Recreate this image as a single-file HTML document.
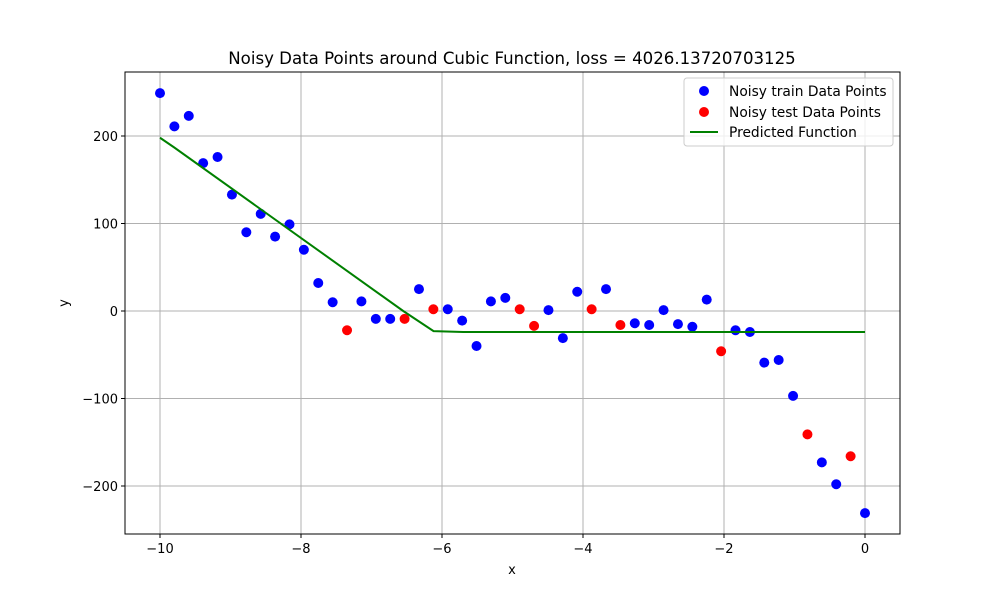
<!DOCTYPE html>
<html><head><meta charset="utf-8"><style>
body{margin:0;background:#fff;font-family:"Liberation Sans","DejaVu Sans",sans-serif}
</style></head><body>
<svg id="chart" width="1000" height="600" xmlns="http://www.w3.org/2000/svg" font-family="DejaVu Sans, Liberation Sans, sans-serif">
<rect width="1000" height="600" fill="#fff"/>
<g id="grid"></g>
<g id="marks"></g>
<rect x="125" y="72" width="775" height="462" fill="none" stroke="#000" stroke-width="1"/>
<g id="ticks"></g>
<text x="512" y="64" font-size="16.6" text-anchor="middle">Noisy Data Points around Cubic Function, loss = 4026.13720703125</text>
<text x="512" y="574" font-size="13" text-anchor="middle">x</text>
<text x="68" y="303" font-size="13" text-anchor="middle" transform="rotate(-90 68 303)">y</text>
<g>
<rect x="684" y="78" width="209" height="68" rx="3" fill="#fff" fill-opacity="0.8" stroke="#ccc"/>
<circle cx="704" cy="91" r="5" fill="#0000ff"/>
<text x="729" y="96" font-size="13.8">Noisy train Data Points</text>
<circle cx="704" cy="112" r="5" fill="#ff0000"/>
<text x="729" y="117" font-size="13.8">Noisy test Data Points</text>
<line x1="690" y1="132" x2="718" y2="132" stroke="#008000" stroke-width="2"/>
<text x="729" y="137" font-size="13.8">Predicted Function</text>
</g>
</svg>
<script>
const xTicks=[-10,-8,-6,-4,-2,0];
const yTicks=[-200,-100,0,100,200];
const yValues=[249,211,223,169,176,133,90,111,85,99,70,32,10,-22,11,-9,-9,-9,25,2,2,-11,-40,11,15,2,-17,1,-31,22,2,25,-16,-14,-16,1,-15,-18,13,-46,-22,-24,-59,-56,-97,-141,-173,-198,-166,-231];
const testIdx=[13,17,19,25,26,30,32,39,45,48];
const predX=[-10,-9.8,-6.55,-6.12,-5.7,0];
const predY=[198,187,0,-23,-24,-24];
const NS='http://www.w3.org/2000/svg';
const sx=v=>160+(v+10)*70.5;
const sy=v=>311-v*0.875;
function mk(t,a,p){const e=document.createElementNS(NS,t);for(const k in a)e.setAttribute(k,a[k]);p.appendChild(e);return e;}
const grid=document.getElementById('grid'),ticks=document.getElementById('ticks'),marks=document.getElementById('marks');
xTicks.forEach(v=>{const x=sx(v);
const g=mk('line',{x1:x,x2:x,y1:72,y2:534,stroke:'#b0b0b0','stroke-width':1},grid);


mk('line',{x1:x,x2:x,y1:534,y2:538,stroke:'#000'},ticks);
const t=mk('text',{x:x,y:553,'font-size':13,'text-anchor':'middle'},ticks);t.textContent=(v<0?'\u2212'+(-v):v);

});
yTicks.forEach(v=>{const y=sy(v);
const g=mk('line',{x1:125,x2:900,y1:y,y2:y,stroke:'#b0b0b0','stroke-width':1},grid);


mk('line',{x1:121,x2:125,y1:y,y2:y,stroke:'#000'},ticks);
const t=mk('text',{x:118,y:y+5,'font-size':13,'text-anchor':'end'},ticks);t.textContent=(v<0?'\u2212'+(-v):v);

});
yValues.forEach((v,i)=>{const xv=-10+i*10/49;const test=testIdx.includes(i);
const c=mk('circle',{cx:sx(xv),cy:sy(v),r:5,fill:test?'#ff0000':'#0000ff'},marks);

});
const pl=mk('polyline',{points:predX.map((x,i)=>sx(x)+','+sy(predY[i])).join(' '),fill:'none',stroke:'#008000','stroke-width':2},marks);


</script>
</body></html>
